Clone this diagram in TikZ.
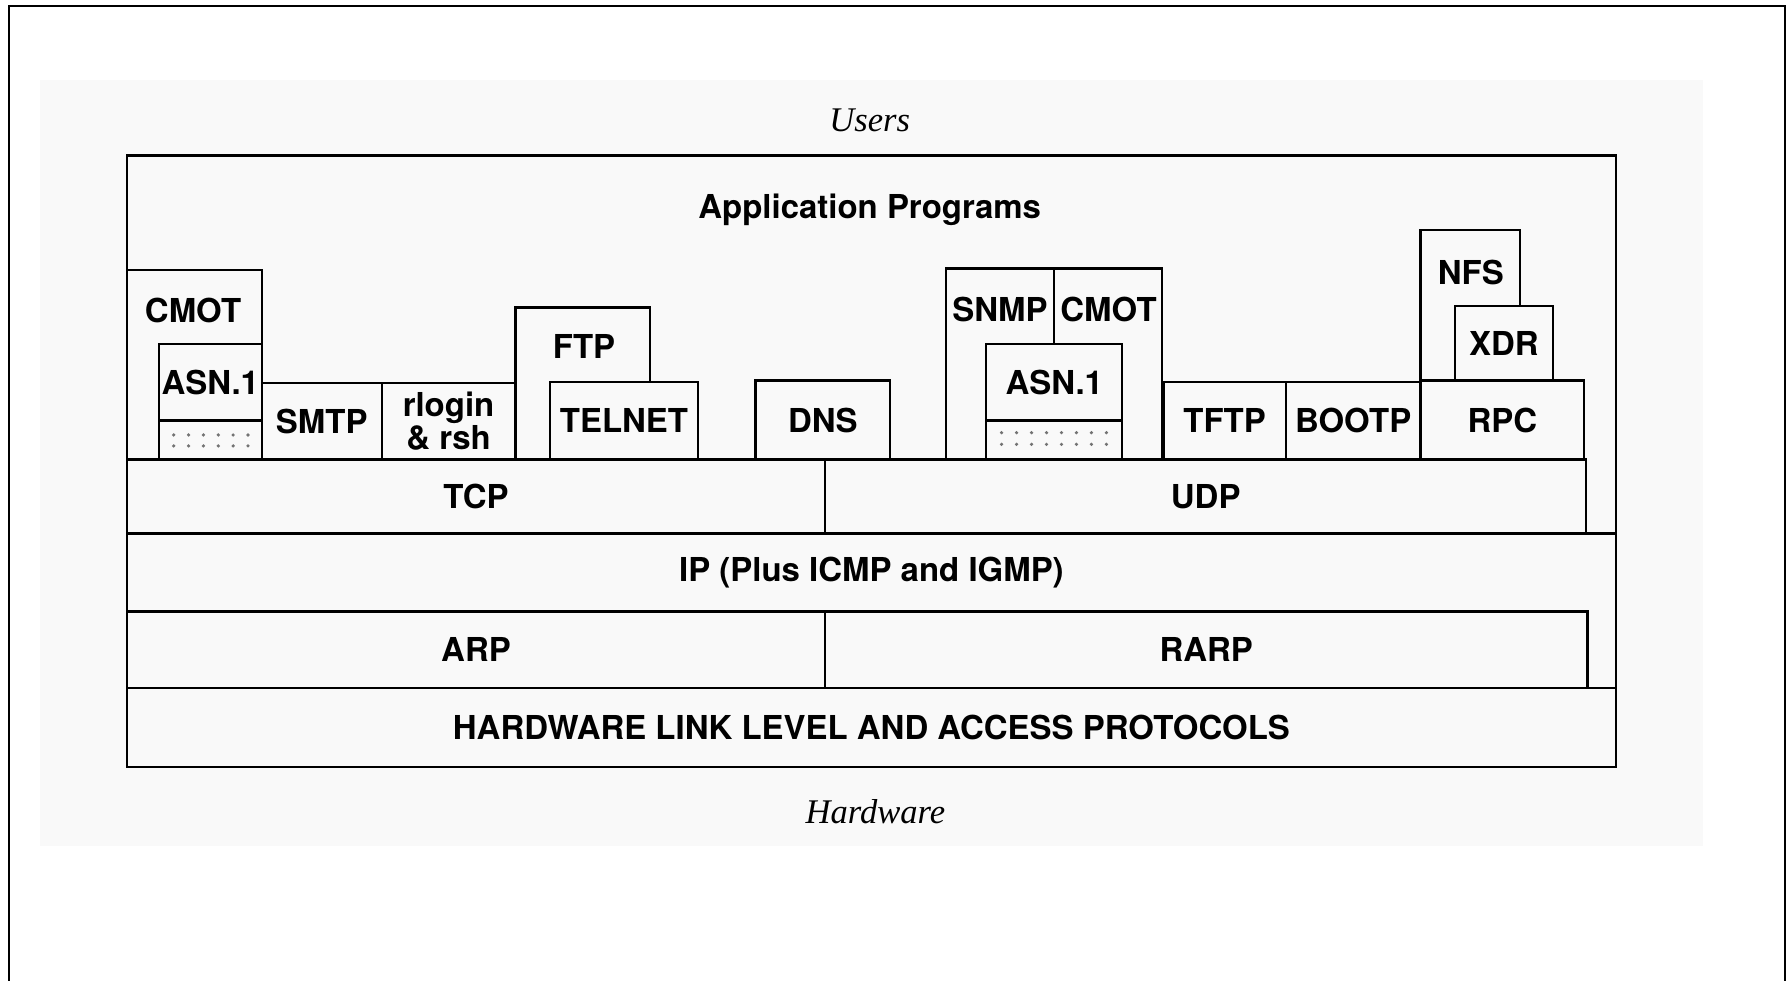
\documentclass[tikz,border=0pt]{standalone}
\usepackage{fontspec}
\setmainfont{TeX Gyre Heros}
\newfontfamily\capfont{Liberation Serif}
\newcommand\pbx[6]{%
  \node[pbox, minimum width={(#4-#2)*0.01cm}, minimum height={(#5-#3)*0.01cm}]
    (#1) at ({(#2+#4)/2},{(#3+#5)/2}) {#6};}
\definecolor{scanbg}{gray}{0.975}
\begin{document}
\begin{tikzpicture}[x=0.01cm, y=-0.01cm,
  lbl/.style={inner sep=0pt, outer sep=0pt, align=center,
    font=\fontsize{8.2}{9.4}\selectfont\bfseries},
  pbox/.style={lbl, draw, fill=scanbg, line width=0.6pt},
  ital/.style={inner sep=0pt, font=\capfont\itshape\fontsize{8.6}{10}\selectfont},
  dotfill/.style={fill=black!55}
]
\useasboundingbox (0,0) rectangle (1568,858);
% page frame (open at the bottom) and faint scan background
\fill[scanbg] (35,70) rectangle (1490,740);
\draw[line width=0.5pt] (8,860) -- (8,5.5) -- (1562,5.5) -- (1562,860);

% outer stack frame
\pbx{stack}{111}{136}{1414}{671}{}
\node[ital] (users) at (761,105) {Users};
\node[ital] (hwlabel) at (766,710) {Hardware};
\node[lbl] (apps) at (761,184) {Application Programs};

% application protocols, left side
\pbx{cmotL}{111}{236}{229}{402}{}
\node[lbl] (cmotLt) at (169,272) {CMOT};
\pbx{asnL}{139}{301}{229}{368}{ASN.1}
\pbx{asnLd}{139}{368}{229}{402}{}
\pbx{smtp}{229}{335}{334}{402}{SMTP}
\pbx{rlogin}{334}{335}{451}{402}{rlogin\\[-1pt]\& rsh}
\pbx{ftp}{451}{269}{569}{402}{}
\node[lbl] (ftpt) at (511,303) {FTP};
\pbx{telnet}{481}{334}{611}{402}{TELNET}
\pbx{dns}{661}{333}{779}{402}{DNS}

% application protocols, right side
\pbx{mgmt}{828}{235}{1017}{402}{}
\coordinate (mdivtop) at (922,235);
\coordinate (mdivbot) at (922,301);
\draw[line width=0.6pt] (mdivtop) -- (mdivbot);
\node[lbl] (snmpt) at (875,271) {SNMP};
\node[lbl] (cmotRt) at (970,271) {CMOT};
\pbx{asnR}{863}{301}{982}{368}{ASN.1}
\pbx{asnRd}{863}{368}{982}{402}{}
\pbx{tftp}{1018}{334}{1125}{402}{TFTP}
\pbx{bootp}{1125}{334}{1243}{402}{BOOTP}
\pbx{nfs}{1243}{201}{1330}{333}{}
\node[lbl] (nfst) at (1287,238) {NFS};
\pbx{xdr}{1273}{268}{1359}{333}{XDR}
\pbx{rpc}{1243}{333}{1386}{402}{RPC}

% dotted fills of the ASN.1 boxes
\foreach \k in {0,...,5} {
  \fill[dotfill] ({152+13*\k},380.6) circle (0.45pt);
  \fill[dotfill] ({152+13*\k},390.2) circle (0.45pt);
}
\foreach \k in {0,...,7} {
  \fill[dotfill] ({876.4+13.1*\k},378.6) circle (0.45pt);
  \fill[dotfill] ({876.4+13.1*\k},388.8) circle (0.45pt);
}

% transport, network, link layers
\pbx{tcp}{111}{402}{722}{467}{TCP}
\pbx{udp}{722}{402}{1388}{467}{UDP}
\node[lbl, minimum width=13.03cm, minimum height=0.68cm] (ip) at (762.5,501) {IP (Plus ICMP and IGMP)};
\draw[line width=0.6pt] (ip.north west) -- (ip.north east);
\pbx{arp}{111}{535}{722}{602}{ARP}
\pbx{rarp}{722}{535}{1389}{602}{RARP}
\pbx{hw}{111}{602}{1414}{671}{HARDWARE LINK LEVEL AND ACCESS PROTOCOLS}
\end{tikzpicture}
\end{document}
